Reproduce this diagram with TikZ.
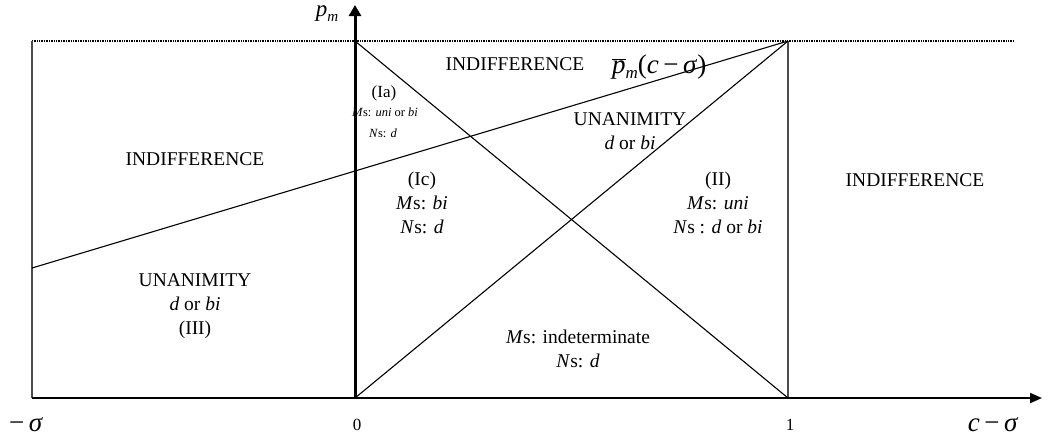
\documentclass[tikz,border=0pt]{standalone}
\usepackage{fontspec}
\setmainfont{Liberation Serif}
\usetikzlibrary{arrows.meta}
\newcommand{\iv}[1]{\textit{#1}}
\tikzset{
  lbl/.style={font=\fontsize{19.5}{23}\selectfont, inner sep=0pt, align=center},
  small/.style={font=\fontsize{12.5}{15}\selectfont, inner sep=0pt, align=center},
  axlbl/.style={font=\fontsize{27}{29}\selectfont, inner sep=0pt},
  ticklbl/.style={font=\fontsize{17}{20}\selectfont, inner sep=0pt},
  thin line/.style={line width=1.1pt, black},
  gray line/.style={line width=1.4pt, black!70},
}
\begin{document}
\begin{tikzpicture}[x=1pt,y=-1pt]
\useasboundingbox (0,0) rectangle (1048,445);
% key points
\coordinate (BL) at (32,398);
\coordinate (TL) at (32,41);
\coordinate (O) at (355,398);
\coordinate (OT) at (355,41);
\coordinate (One) at (788,398);
\coordinate (OneT) at (788,41);
\coordinate (TR) at (1013,41);
\coordinate (XE) at (1042,398);
\coordinate (YE) at (355,5);
\coordinate (LL) at (32,268);
% dotted top line
\draw[line width=1.4pt, dash pattern=on 1pt off 0.7pt] (TL) -- (TR);
% verticals
\draw[gray line] (TL) -- (BL);
\draw[gray line] (OneT) -- (One);
% diagonals and slanted line
\draw[thin line] (OT) -- (One);
\draw[thin line] (O) -- (OneT);
\draw[thin line] (LL) -- (OneT);
% axes
\draw[line width=1.8pt, -{Triangle[length=12pt,width=10pt]}] (BL) -- (XE);
\draw[line width=3pt, -{Triangle[length=11pt,width=12pt]}] (O) -- (YE);
% axis labels
\node[font=\fontsize{23}{24}\selectfont, inner sep=0pt, anchor=base] (pm) at (327,16) {\iv{p}\raisebox{-5pt}{\fontsize{15}{16}\selectfont\iv{m}}};
\node[axlbl, anchor=base] (ms) at (26,431) {−\,\iv{σ}};
\node[ticklbl] (z) at (357,425) {0};
\node[ticklbl] (one) at (790,425) {1};
\node[axlbl, anchor=base] (cs) at (993,431) {\iv{c}\,−\,\iv{σ}};
% region labels
\node[lbl] (ind1) at (195,159) {INDIFFERENCE};
\node[lbl] (ind2) at (515,64) {INDIFFERENCE};
\node[font=\fontsize{27}{29}\selectfont, inner sep=0pt, anchor=base west] (pbar) at (612,73) {$\overline{\mbox{\iv{p}}}$\raisebox{-5pt}{\fontsize{17}{18}\selectfont\iv{m}}(\iv{c}\,−\,\iv{σ})};
\node[lbl, font=\fontsize{17}{20}\selectfont] (Ia) at (384,93) {(Ia)};
\node[small] (Ia1) at (385,112) {\iv{M}s: \iv{uni} or \iv{bi}};
\node[small] (Ia2) at (383,133) {\iv{N}s: \iv{d}};
\node[lbl] (un1) at (630,131) {UNANIMITY\\[1pt]\iv{d} or \iv{bi}};
\node[lbl] (Ic) at (422,203) {(Ic)\\[1pt]\iv{M}s: \iv{bi}\\[1pt]\iv{N}s: \iv{d}};
\node[lbl] (II) at (718,203) {(II)\\[1pt]\iv{M}s: \iv{uni}\\[1pt]\iv{N}s : \iv{d} or \iv{bi}};
\node[lbl] (ind3) at (915,180) {INDIFFERENCE};
\node[lbl] (III) at (195,306) {UNANIMITY\\[1pt]\iv{d} or \iv{bi}\\[1pt](III)};
\node[lbl] (ind4) at (578,349) {\iv{M}s: indeterminate\\[1pt]\iv{N}s: \iv{d}};
\end{tikzpicture}
\end{document}
